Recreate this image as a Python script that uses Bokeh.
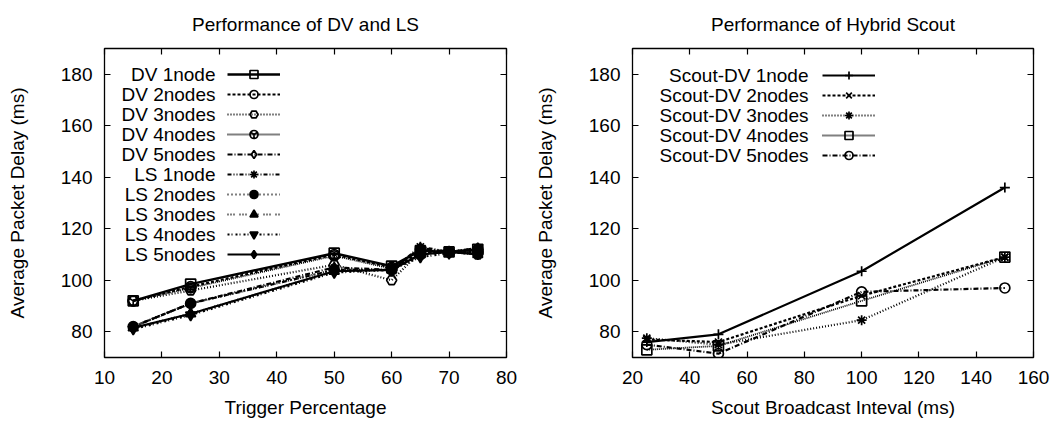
from bokeh.plotting import figure
from bokeh.models import LinearAxis, Range1d, Legend, LegendItem, Label, FixedTicker
from bokeh.layouts import row
from bokeh.embed import file_html
from bokeh.resources import INLINE

# ---------------- data ----------------
trigger_pct = [15, 25, 50, 60, 65, 70, 75]
dv_1node = [92, 98.5, 110.5, 105.5, 111.5, 111, 112]
dv_2nodes = [92, 97.5, 110, 105, 110.5, 111, 111]
dv_3nodes = [92, 96, 106, 100, 111, 111, 110]
dv_4nodes = [92, 97, 109.5, 104.5, 110, 111, 111]
dv_5nodes = [82, 91, 105, 104, 112.5, 111, 112.5]
ls_1node = [82, 91, 104, 104, 113, 111, 112.5]
ls_2nodes = [82, 91, 104, 104, 112, 111, 112]
ls_3nodes = [81.5, 87, 103.5, 104, 110, 111, 110]
ls_4nodes = [81, 86.5, 103, 104, 109, 110.5, 111]
ls_5nodes = [81.5, 87, 103.5, 104, 110, 111, 110]

scout_interval = [25, 50, 100, 150]
scout_dv_1node = [76, 79, 103.5, 136]
scout_dv_2nodes = [77, 76, 94, 109]
scout_dv_3nodes = [77.5, 75, 84.5, 109]
scout_dv_4nodes = [73, 74.5, 92, 109]
scout_dv_5nodes = [75, 71.5, 95.5, 97]

left_labels = ["DV 1node", "DV 2nodes", "DV 3nodes", "DV 4nodes", "DV 5nodes",
               "LS 1node", "LS 2nodes", "LS 3nodes", "LS 4nodes", "LS 5nodes"]
right_labels = ["Scout-DV 1node", "Scout-DV 2nodes", "Scout-DV 3nodes",
                "Scout-DV 4nodes", "Scout-DV 5nodes"]

left_xticks = [10, 20, 30, 40, 50, 60, 70, 80]
right_xticks = [20, 40, 60, 80, 100, 120, 140, 160]
y_ticks = [80, 100, 120, 140, 160, 180]

FONT = "Liberation Sans"
FS = "19px"

left_series = [dv_1node, dv_2nodes, dv_3nodes, dv_4nodes, dv_5nodes,
               ls_1node, ls_2nodes, ls_3nodes, ls_4nodes, ls_5nodes]
left_styles = [
    ("solid", "square", False, 2.4),
    ("3 2", "circle", False, 2.2),
    ("1 2", "hex", False, 2.2),
    ("1 1", "circle_y", False, 1.8),
    ("5 2 1 2", "diamond", False, 2.2),
    ("4 2 1 2 1 2", "asterisk", False, 2.2),
    ("1 3", "circle", True, 2.2),
    ("1 2 1 2 1 5", "triangle", True, 2.2),
    ("2 2 1 3", "inverted_triangle", True, 2.2),
    ("solid", "diamond", True, 2.2),
]
right_series = [scout_dv_1node, scout_dv_2nodes, scout_dv_3nodes,
                scout_dv_4nodes, scout_dv_5nodes]
right_styles = [
    ("solid", "cross", False, 2.2),
    ("3 2", "x", False, 2.2),
    ("1 2", "asterisk", False, 2.2),
    ("1 1", "square", False, 1.8),
    ("5 2 1 2", "circle", False, 2.2),
]


def make_fig(title, xlabel, xr, xticks, bl, br):
    p = figure(width=530, height=422, output_backend="svg", toolbar_location=None,
               x_range=Range1d(*xr), y_range=Range1d(70, 190),
               min_border_left=bl, min_border_right=br,
               min_border_top=48, min_border_bottom=65,
               x_axis_label=xlabel, y_axis_label="Average Packet Delay (ms)")
    p.title.text = title
    p.title.align = "center"
    p.title.vertical_align = "top"
    p.title.text_font = FONT
    p.title.text_font_size = FS
    p.title.text_font_style = "normal"
    p.title.text_color = "black"
    p.title.standoff = 24
    p.xgrid.visible = False
    p.ygrid.visible = False
    p.outline_line_color = "black"
    p.outline_line_width = 1.3
    p.outline_line_alpha = 1
    p.xaxis.ticker = FixedTicker(ticks=xticks)
    p.yaxis.ticker = FixedTicker(ticks=y_ticks)
    for ax in [p.xaxis[0], p.yaxis[0]]:
        ax.axis_line_color = None
        ax.major_tick_in = 6
        ax.major_tick_out = 0
        ax.major_tick_line_width = 1.2
        ax.minor_tick_line_color = None
        ax.major_label_text_font = FONT
        ax.major_label_text_font_size = FS
        ax.major_label_text_color = "black"
        ax.axis_label_text_font = FONT
        ax.axis_label_text_font_size = FS
        ax.axis_label_text_font_style = "normal"
        ax.axis_label_text_color = "black"
    p.xaxis.major_label_standoff = 13
    p.xaxis.axis_label_standoff = 10
    p.yaxis.major_label_standoff = 12
    p.yaxis.axis_label_standoff = 30
    # mirrored tick marks (gnuplot style), drawn as label-less minor ticks
    for loc, tk in (("right", y_ticks), ("above", xticks)):
        ax = LinearAxis(ticker=FixedTicker(ticks=[], minor_ticks=tk))
        ax.axis_line_color = None
        ax.major_tick_line_color = None
        ax.minor_tick_in = 6
        ax.minor_tick_out = 0
        ax.minor_tick_line_width = 1.2
        ax.minor_tick_line_color = "black"
        ax.major_label_standoff = 0
        p.add_layout(ax, loc)
    return p


def draw(p, xs, series, styles, labels, leg_x, leg_y, txt_x, txt_y0):
    items = []
    for ys, (dash, marker, filled, lw), lab in zip(series, styles, labels):
        lr = p.line(xs, ys, line_color="black", line_width=lw, line_dash=dash)
        sr = p.scatter(xs, ys, marker=marker, size=10, line_color="black",
                       line_width=1.7,
                       fill_color="black" if filled else None)
        items.append(LegendItem(label=" ", renderers=[lr, sr]))
    leg = Legend(items=items, location=(leg_x, leg_y), glyph_width=53, glyph_height=20,
                 label_height=20, label_width=0, label_standoff=0, spacing=0,
                 padding=0, margin=0, border_line_color=None,
                 background_fill_alpha=0, label_text_font_size="1px")
    p.add_layout(leg)
    for i, lab in enumerate(labels):
        p.add_layout(Label(x=txt_x, y=txt_y0 - 20 * i, x_units="screen", y_units="screen",
                           text=lab, text_align="right", text_baseline="middle",
                           text_font=FONT, text_font_size=FS, text_color="black"))


p1 = make_fig("Performance of DV and LS", "Trigger Percentage", (10, 80), left_xticks, 104, 24)
draw(p1, trigger_pct, left_series, left_styles, left_labels, 123, 93, 111, 283)

p2 = make_fig("Performance of Hybrid Scout", "Scout Broadcast Inteval (ms)", (20, 160), right_xticks, 102, 27)
draw(p2, scout_interval, right_series, right_styles, right_labels, 190, 192, 176, 282.5)

layout = row(p1, p2, spacing=0)
open("out.html", "w").write(file_html(layout, INLINE))
